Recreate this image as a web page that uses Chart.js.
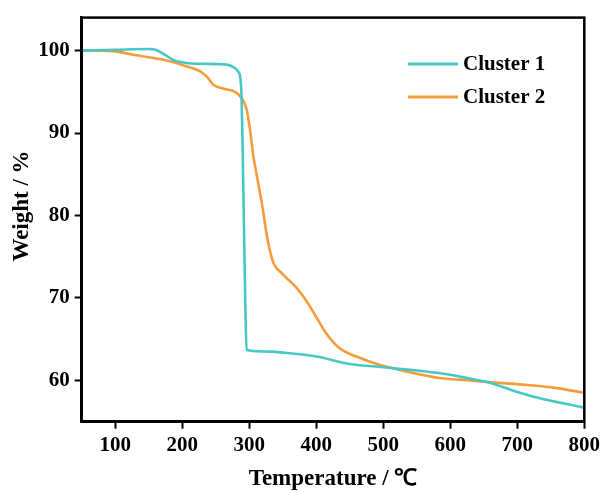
<!DOCTYPE html>
<html>
<head>
<meta charset="utf-8">
<script src="https://cdn.jsdelivr.net/npm/chart.js@4.4.1/dist/chart.umd.min.js"></script>
<style>
  html, body { margin: 0; padding: 0; background: #fff; }
  #wrap { width: 605px; height: 493px; position: relative; }
</style>
</head>
<body>
<div id="wrap"><canvas id="tga"></canvas></div>
<script>
// TGA curves: temperature (°C) vs remaining weight (%)
const cluster1Temp = [50, 100, 150, 160, 176, 186, 206, 230, 266, 276, 283, 287, 288.5, 290, 292, 294, 296,
  330, 360, 400, 450, 500, 550, 600, 630, 660, 700, 735, 770, 800];
const cluster1Weight = [100, 100.1, 100.2, 100.1, 99.4, 98.9, 98.5, 98.4, 98.3, 98.0, 97.5, 96.5, 94.5, 88.9, 79.3, 70.0, 63.7,
  63.5, 63.3, 62.9, 62.0, 61.6, 61.2, 60.7, 60.2, 59.7, 58.6, 57.8, 57.2, 56.7];

const cluster2Temp = [50, 80, 100, 127, 150, 177, 206, 226, 236, 246, 261, 276, 286, 296, 301, 306, 313, 320,
  326, 335, 350, 370, 385, 400, 415, 435, 460, 494, 534, 584, 613, 658, 708, 757, 800];
const cluster2Weight = [100, 100, 99.9, 99.5, 99.2, 98.8, 98.1, 97.5, 96.9, 95.9, 95.4, 95.1, 94.5, 92.9, 90.5, 87.3, 84.1, 80.9,
  77.7, 74.5, 72.9, 71.3, 69.7, 67.7, 65.7, 63.9, 62.9, 61.9, 61.1, 60.3, 60.1, 59.8, 59.5, 59.1, 58.5];

const seriesNames = ['Cluster 1', 'Cluster 2'];
const seriesColors = ['#46C9C5', '#F59D3D'];

const xTicks = [100, 200, 300, 400, 500, 600, 700, 800];
const yTicks = [60, 70, 80, 90, 100];

const serif = "'Liberation Serif', 'Times New Roman', serif";

const toPoints = (xs, ys) => xs.map((x, i) => ({ x: x, y: ys[i] }));

// box around the plot, y title and legend in the upper right corner
const framePlugin = {
  id: 'frame',
  afterDraw(chart) {
    const { ctx, chartArea: a } = chart;
    ctx.save();
    ctx.strokeStyle = '#000';
    ctx.lineWidth = 2.5;
    ctx.strokeRect(a.left, a.top, a.right - a.left, a.bottom - a.top);

    ctx.fillStyle = '#000';
    ctx.font = 'bold 23px ' + serif;
    ctx.textAlign = 'center';
    ctx.textBaseline = 'middle';
    ctx.save();
    ctx.translate(22, 206);
    ctx.rotate(-Math.PI / 2);
    ctx.fillText('Weight / %', 0, 0);
    ctx.restore();

    ctx.font = 'bold 21px ' + serif;
    ctx.textAlign = 'left';
    chart.data.datasets.forEach((ds, i) => {
      const y = 64 + i * 33;
      ctx.strokeStyle = ds.borderColor;
      ctx.lineWidth = 3;
      ctx.beginPath();
      ctx.moveTo(408, y);
      ctx.lineTo(458, y);
      ctx.stroke();
      ctx.fillText(ds.label, 463, y + 1);
    });
    ctx.restore();
  }
};

new Chart(document.getElementById('tga'), {
  type: 'line',
  data: {
    datasets: [
      {
        label: seriesNames[0],
        data: toPoints(cluster1Temp, cluster1Weight),
        borderColor: seriesColors[0],
        borderWidth: 2.6,
        pointRadius: 0,
        cubicInterpolationMode: 'monotone'
      },
      {
        label: seriesNames[1],
        data: toPoints(cluster2Temp, cluster2Weight),
        borderColor: seriesColors[1],
        borderWidth: 2.6,
        pointRadius: 0,
        cubicInterpolationMode: 'monotone'
      }
    ]
  },
  options: {
    responsive: true,
    maintainAspectRatio: false,
    animation: false,
    layout: { padding: { top: 14, right: 20.7, left: 0, bottom: 0 } },
    plugins: {
      legend: { display: false },
      tooltip: { enabled: false }
    },
    scales: {
      x: {
        type: 'linear',
        min: 50,
        max: 800,
        afterBuildTicks: (scale) => { scale.ticks = xTicks.map(v => ({ value: v })); },
        afterFit: (scale) => { scale.height = 71.3; },
        border: { color: '#000', width: 2.5 },
        grid: { drawOnChartArea: false, tickLength: 7, tickWidth: 2, color: '#000' },
        ticks: { color: '#000', font: { family: serif, size: 21, weight: 'bold' }, padding: 4, maxRotation: 0 },
        title: {
          display: true,
          text: 'Temperature / ℃',
          color: '#000',
          font: { family: serif, size: 23, weight: 'bold' },
          padding: { top: 0, bottom: 0 }
        }
      },
      y: {
        min: 55,
        max: 104,
        afterBuildTicks: (scale) => { scale.ticks = yTicks.map(v => ({ value: v })); },
        afterFit: (scale) => { scale.width = 81.7; },
        border: { color: '#000', width: 2.5 },
        grid: { drawOnChartArea: false, tickLength: 7, tickWidth: 2, color: '#000' },
        ticks: { color: '#000', font: { family: serif, size: 21, weight: 'bold' }, padding: 5 }
      }
    }
  },
  plugins: [framePlugin]
});
</script>
</body>
</html>
